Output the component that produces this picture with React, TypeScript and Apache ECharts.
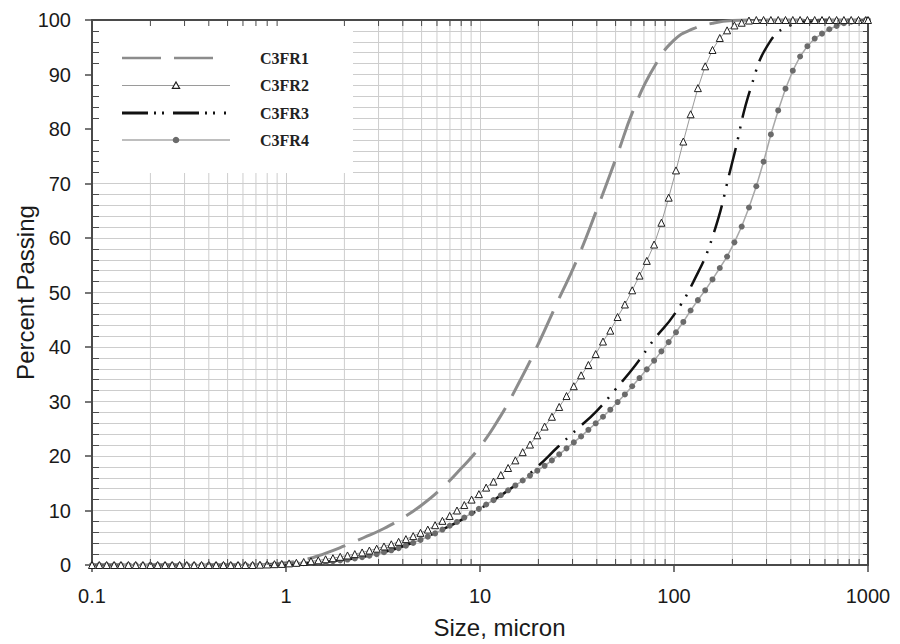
import React, { useEffect, useRef } from "react";
import * as echarts from "echarts";

// Particle sizes (micron) of the marker series
const sizes = [
  0.1, 0.109, 0.119, 0.13, 0.141, 0.154, 0.168, 0.183,
  0.2, 0.218, 0.238, 0.259, 0.283, 0.308, 0.336, 0.367,
  0.4, 0.436, 0.476, 0.519, 0.566, 0.617, 0.673, 0.734,
  0.8, 0.872, 0.951, 1.037, 1.131, 1.234, 1.345, 1.467,
  1.6, 1.745, 1.903, 2.075, 2.263, 2.468, 2.691, 2.934,
  3.2, 3.49, 3.806, 4.15, 4.525, 4.935, 5.382, 5.869,
  6.4, 6.979, 7.611, 8.3, 9.051, 9.87, 10.76, 11.74,
  12.8, 13.96, 15.22, 16.6, 18.1, 19.74, 21.53, 23.48,
  25.6, 27.92, 30.44, 33.2, 36.2, 39.48, 43.05, 46.95,
  51.2, 55.83, 60.89, 66.4, 72.41, 78.96, 86.11, 93.9,
  102.4, 111.7, 121.8, 132.8, 144.8, 157.9, 172.2, 187.8,
  204.8, 223.3, 243.5, 265.6, 289.6, 315.8, 344.4, 375.6,
  409.6, 446.7, 487.1, 531.2, 579.3, 631.7, 688.9, 751.2,
  819.2, 893.4, 974.3, 1000,
];

const c3fr2 = [
  0, 0, 0, 0, 0, 0, 0, 0,
  0, 0, 0, 0, 0, 0, 0, 0,
  0, 0, 0, 0, 0, 0, 0, 0.05,
  0.1, 0.15, 0.2, 0.3, 0.4, 0.55, 0.7, 0.85,
  1.05, 1.25, 1.5, 1.75, 2.0, 2.3, 2.65, 3.0,
  3.4, 3.8, 4.25, 4.75, 5.3, 5.9, 6.5, 7.3,
  8.1, 9.0, 10.0, 11.0, 12.0, 13.0, 14.2, 15.3,
  16.5, 17.8, 19.2, 20.7, 22.1, 23.8, 25.4, 27.2,
  29.0, 31.0, 32.8, 34.8, 36.7, 38.7, 41.0, 43.0,
  45.5, 47.8, 50.4, 53.1, 55.8, 58.8, 62.8, 67.4,
  72.4, 77.7, 82.7, 87.5, 91.5, 94.5, 96.7, 98.1,
  99.0, 99.5, 99.9, 100, 100, 100, 100, 100,
  100, 100, 100, 100, 100, 100, 100, 100,
  100, 100, 100, 100,
];

const c3fr4 = [
  0, 0, 0, 0, 0, 0, 0, 0,
  0, 0, 0, 0, 0, 0, 0, 0,
  0, 0, 0, 0, 0, 0, 0, 0,
  0.05, 0.08, 0.12, 0.2, 0.25, 0.32, 0.4, 0.5,
  0.6, 0.7, 0.85, 1.0, 1.2, 1.45, 1.7, 2.0,
  2.35, 2.7, 3.1, 3.55, 4.05, 4.6, 5.2, 5.8,
  6.5, 7.2, 7.9, 8.7, 9.5, 10.3, 11.1, 11.9,
  12.8, 13.7, 14.6, 15.5, 16.4, 17.3, 18.2, 19.2,
  20.3, 21.4, 22.5, 23.6, 24.8, 26.0, 27.2, 28.5,
  29.9, 31.3, 32.8, 34.3, 35.9, 37.5, 39.2, 40.9,
  42.7, 44.6, 46.7, 48.6, 50.4, 52.4, 54.5, 56.6,
  59.2, 62.1, 65.6, 69.5, 74.0, 79.0, 83.4, 87.4,
  90.7, 93.3, 95.2, 96.6, 97.5, 98.3, 98.9, 99.4,
  99.7, 99.9, 100, 100,
];

// Sizes for the two plain-line series
const lineSizes = [
  0.1, 0.126, 0.158, 0.2, 0.251, 0.316, 0.398, 0.501, 0.631, 0.794,
  1, 1.26, 1.58, 2, 2.51, 3.16, 3.98, 5.01, 6.31, 7.94,
  10, 12.6, 15.8, 20, 25.1, 31.6, 39.8, 50.1, 63.1, 79.4,
  100, 126, 158, 200, 251, 316, 398, 501, 631, 794, 1000,
];

const c3fr1 = [
  0, 0, 0, 0, 0, 0, 0, 0, 0, 0.1,
  0.4, 1.0, 2.1, 3.5, 5.0, 6.6, 8.6, 11.0, 14.0, 17.6,
  21.7, 27.0, 33.3, 40.6, 48.3, 56.0, 65.0, 74.5, 84.3, 91.5,
  96.3, 98.4, 99.4, 99.9, 100, 100, 100, 100, 100, 100, 100,
];

const c3fr3 = [
  0, 0, 0, 0, 0, 0, 0, 0, 0, 0.05,
  0.2, 0.35, 0.6, 0.95, 1.5, 2.3, 3.4, 4.8, 6.4, 8.2,
  10.3, 12.6, 15.1, 18.2, 21.6, 24.9, 28.2, 32.3, 36.6, 41.5,
  45.9, 52.0, 60.2, 74.0, 88.0, 96.3, 99.0, 99.8, 100, 100, 100,
];

const seriesNames = ["C3FR1", "C3FR2", "C3FR3", "C3FR4"];

// Minor (2..9) positions of the log size axis
const minorSizes = [
  0.2, 0.3, 0.4, 0.5, 0.6, 0.7, 0.8, 0.9,
  2, 3, 4, 5, 6, 7, 8, 9,
  20, 30, 40, 50, 60, 70, 80, 90,
  200, 300, 400, 500, 600, 700, 800, 900,
];

const xTitle = "Size, micron";
const yTitle = "Percent Passing";

const pairs = (xs: number[], ys: number[]) => xs.map((x, i) => [x, ys[i]]);

const AXIS = "#4a4a4a";
const GRIDC = "#cdcdcd";
const SANS = "Liberation Sans, Arial, Helvetica, sans-serif";
const SERIF = "Liberation Serif, Times New Roman, serif";

// Series styles (shared by plot and legend)
const C1 = { color: "#8c8c8c", width: 3, dash: [40, 14] };
const C2 = { line: "#9a9a9a", edge: "#1e1e1e" };
const C3 = { color: "#111111", width: 2.5, dash: [28, 9, 2, 9, 2, 9] };
const C4 = { line: "#a8a8a8", dot: "#6b6b6b" };

// Legend layout
const LEG = { x0: 122, x1: 230, textX: 260, rows: [58, 85.5, 113, 140] };

function legendGraphics() {
  const [r1, r2, r3, r4] = LEG.rows;
  const mid = (LEG.x0 + LEG.x1) / 2;
  const text = (name: string, y: number) => ({
    type: "text",
    z: 10,
    silent: true,
    x: LEG.textX,
    y,
    style: {
      text: name,
      fill: "#222",
      font: `bold 16px ${SERIF}`,
      verticalAlign: "middle",
      align: "left",
    },
  });
  return [
    {
      type: "line",
      z: 10,
      silent: true,
      shape: { x1: LEG.x0, y1: r1, x2: 214, y2: r1 },
      style: { stroke: C1.color, lineWidth: 2.5, lineDash: [39, 13] },
    },
    text(seriesNames[0], r1),
    {
      type: "line",
      z: 10,
      silent: true,
      shape: { x1: LEG.x0, y1: r2, x2: LEG.x1, y2: r2 },
      style: { stroke: C2.line, lineWidth: 1 },
    },
    {
      type: "polygon",
      z: 11,
      silent: true,
      shape: { points: [[mid, r2 - 3.5], [mid + 3.6, r2 + 2.8], [mid - 3.6, r2 + 2.8]] },
      style: { fill: "#fff", stroke: C2.edge, lineWidth: 1.2 },
    },
    text(seriesNames[1], r2),
    {
      type: "line",
      z: 10,
      silent: true,
      shape: { x1: LEG.x0, y1: r3, x2: 226, y2: r3 },
      style: { stroke: C3.color, lineWidth: 3, lineDash: [26, 6, 2, 6, 2, 9] },
    },
    text(seriesNames[2], r3),
    {
      type: "line",
      z: 10,
      silent: true,
      shape: { x1: LEG.x0, y1: r4, x2: LEG.x1, y2: r4 },
      style: { stroke: C4.line, lineWidth: 1.5 },
    },
    {
      type: "circle",
      z: 11,
      silent: true,
      shape: { cx: mid, cy: r4, r: 3.3 },
      style: { fill: C4.dot },
    },
    text(seriesNames[3], r4),
  ];
}

export default function App() {
  const ref = useRef<HTMLDivElement | null>(null);

  useEffect(() => {
    if (!ref.current) return;
    const chart = echarts.init(ref.current, undefined, { renderer: "svg" });

    const logAxisBase = { type: "log", logBase: 10, min: 0.1, max: 1000 };

    const option: any = {
      animation: false,
      backgroundColor: "#ffffff",
      grid: {
        left: 92,
        top: 20,
        width: 776,
        height: 545,
        containLabel: false,
        outerBoundsMode: "none",
      },
      graphic: [
        {
          type: "rect",
          z: 1,
          silent: true,
          shape: { x: 93, y: 21, width: 260, height: 152 },
          style: { fill: "#ffffff" },
        },
        ...legendGraphics(),
      ],
      xAxis: [
        {
          ...logAxisBase,
          position: "bottom",
          z: 0,
          axisLine: { show: false, onZero: false },
          axisTick: { show: false },
          axisLabel: { show: false },
          splitLine: { show: true, lineStyle: { color: GRIDC, width: 1 } },
        },
        {
          ...logAxisBase,
          position: "bottom",
          z: 3,
          axisLine: { show: true, onZero: false, lineStyle: { color: AXIS, width: 2 } },
          axisTick: { show: true, inside: false, length: 7, lineStyle: { color: AXIS, width: 1.5 } },
          axisLabel: {
            show: true,
            fontSize: 20,
            color: "#1a1a1a",
            fontFamily: SANS,
            margin: 21,
            formatter: (v: number) => (v < 1 ? v.toFixed(1) : String(Math.round(v))),
          },
          splitLine: { show: false },
          name: xTitle,
          nameLocation: "middle",
          nameGap: 50,
          nameMoveOverlap: false,
          nameTextStyle: { fontSize: 24, color: "#1a1a1a", fontFamily: SANS, padding: [0, 0, 0, 39] },
        },
        {
          ...logAxisBase,
          position: "top",
          z: 3,
          axisLine: { show: true, onZero: false, lineStyle: { color: AXIS, width: 2 } },
          axisTick: { show: false },
          axisLabel: { show: false },
          splitLine: { show: false },
        },
      ],
      yAxis: [
        {
          type: "value",
          min: 0,
          max: 100,
          interval: 10,
          position: "left",
          z: 0,
          axisLine: { show: false, onZero: false },
          axisTick: { show: false },
          axisLabel: { show: false },
          splitLine: { show: true, lineStyle: { color: GRIDC, width: 1 } },
          minorTick: { show: false, splitNumber: 5 },
          minorSplitLine: { show: true, lineStyle: { color: GRIDC, width: 1 } },
        },
        {
          type: "value",
          min: 0,
          max: 100,
          interval: 10,
          position: "left",
          z: 3,
          axisLine: { show: true, onZero: false, lineStyle: { color: AXIS, width: 2 } },
          axisTick: { show: true, inside: false, length: 7, lineStyle: { color: AXIS, width: 1.5 } },
          axisLabel: { show: true, fontSize: 20, color: "#1a1a1a", fontFamily: SANS, margin: 21 },
          splitLine: { show: false },
          name: yTitle,
          nameLocation: "middle",
          nameGap: 55,
          nameMoveOverlap: false,
          nameTextStyle: { fontSize: 24, color: "#1a1a1a", fontFamily: SANS },
        },
        {
          type: "value",
          min: 0,
          max: 100,
          interval: 10,
          position: "left",
          z: 3,
          axisLine: { show: false, onZero: false },
          axisTick: { show: false, inside: true },
          axisLabel: { show: false },
          splitLine: { show: false },
          minorTick: { show: true, splitNumber: 5, length: 7, lineStyle: { color: AXIS, width: 1 } },
        },
        {
          type: "value",
          min: 0,
          max: 100,
          interval: 10,
          position: "right",
          z: 3,
          axisLine: { show: true, onZero: false, lineStyle: { color: AXIS, width: 2 } },
          axisTick: { show: true, inside: true, length: 7, lineStyle: { color: AXIS, width: 1 } },
          axisLabel: { show: false },
          splitLine: { show: false },
          minorTick: { show: true, splitNumber: 5, length: 5, lineStyle: { color: AXIS, width: 1 } },
        },
      ],
      series: [
        {
          type: "custom",
          name: "minorGrid",
          xAxisIndex: 0,
          yAxisIndex: 0,
          z: 0,
          silent: true,
          data: minorSizes.map((v) => [v, 0]),
          renderItem: (_p: any, api: any) => {
            const x = api.value(0);
            const b = api.coord([x, 0]);
            const t = api.coord([x, 100]);
            return {
              type: "line",
              shape: { x1: b[0], y1: b[1], x2: t[0], y2: t[1] },
              style: { stroke: GRIDC, lineWidth: 1 },
            };
          },
        },
        {
          type: "custom",
          name: "minorTicks",
          xAxisIndex: 0,
          yAxisIndex: 0,
          z: 6,
          silent: true,
          data: minorSizes.map((v) => [v, 0]),
          renderItem: (_p: any, api: any) => {
            const x = api.value(0);
            const b = api.coord([x, 0]);
            const t = api.coord([x, 100]);
            return {
              type: "group",
              children: [
                {
                  type: "line",
                  shape: { x1: b[0], y1: b[1], x2: b[0], y2: b[1] - 6 },
                  style: { stroke: AXIS, lineWidth: 1 },
                },
                {
                  type: "line",
                  shape: { x1: t[0], y1: t[1], x2: t[0], y2: t[1] + 6 },
                  style: { stroke: AXIS, lineWidth: 1 },
                },
              ],
            };
          },
        },
        {
          type: "line",
          name: seriesNames[0],
          xAxisIndex: 0,
          yAxisIndex: 0,
          z: 4,
          clip: false,
          data: pairs(lineSizes, c3fr1),
          symbol: "none",
          smooth: 0.5,
          itemStyle: { color: C1.color },
          lineStyle: { color: C1.color, width: C1.width, type: C1.dash },
        },
        {
          type: "line",
          name: seriesNames[1],
          xAxisIndex: 0,
          yAxisIndex: 0,
          z: 5,
          clip: false,
          data: pairs(sizes, c3fr2),
          symbol: "triangle",
          symbolSize: 7,
          itemStyle: { color: "#ffffff", borderColor: C2.edge, borderWidth: 1 },
          lineStyle: { color: C2.line, width: 1 },
        },
        {
          type: "line",
          name: seriesNames[3],
          xAxisIndex: 0,
          yAxisIndex: 0,
          z: 4,
          clip: false,
          data: pairs(sizes, c3fr4),
          symbol: "circle",
          symbolSize: 6,
          itemStyle: { color: C4.dot },
          lineStyle: { color: C4.line, width: 1.5 },
        },
        {
          type: "line",
          name: seriesNames[2],
          xAxisIndex: 0,
          yAxisIndex: 0,
          z: 4,
          clip: false,
          data: pairs(lineSizes, c3fr3),
          symbol: "none",
          smooth: 0.5,
          itemStyle: { color: C3.color },
          lineStyle: { color: C3.color, width: C3.width, type: C3.dash },
        },
      ],
    };

    chart.setOption(option);
    return () => chart.dispose();
  }, []);

  return (
    <div
      ref={ref}
      style={{ position: "fixed", left: 0, top: 0, width: 900, height: 644, background: "#fff" }}
    />
  );
}
